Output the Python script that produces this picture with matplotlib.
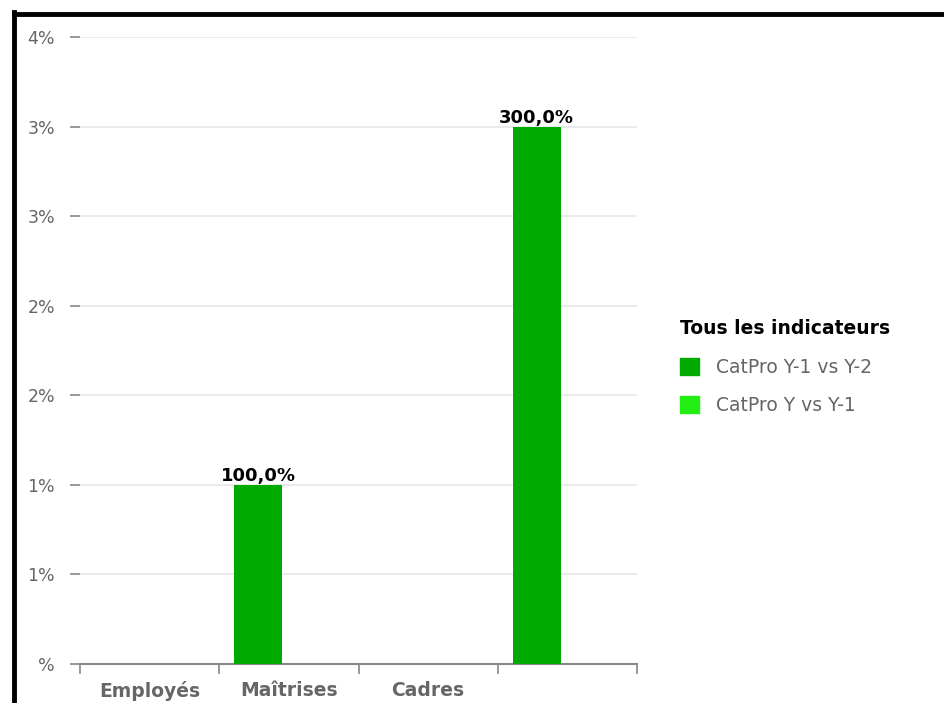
import matplotlib
matplotlib.use("Agg")
import matplotlib.pyplot as plt
from matplotlib.lines import Line2D
import numpy as np

categories = ["Employés", "Maîtrises", "Cadres", ""]
series_names = ["CatPro Y-1 vs Y-2", "CatPro Y vs Y-1"]
series1 = [0.0, 1.0, 0.0, 3.0]
series2 = [0.0, 0.0, 0.0, 0.0]
yticks = [0, 0.5, 1.0, 1.5, 2.0, 2.5, 3.0, 3.5]
ytick_labels = ["%", "1%", "1%", "2%", "2%", "3%", "3%", "4%"]
legend_title = "Tous les indicateurs"

colors = ["#00aa00", "#22ee11"]

fig = plt.figure(figsize=(9.44, 7.03), dpi=100)
fig.patch.set_facecolor("white")
ax = fig.add_axes([80/944, 39/703, (637-80)/944, (664-37)/703])

x = np.arange(len(categories))
w = 0.345
off = 0.22
b1 = ax.bar(x - off, series1, w, color=colors[0], label=series_names[0], zorder=3)
b2 = ax.bar(x + off, series2, w, color=colors[1], label=series_names[1], zorder=3)

for rect, v in zip(b1, series1):
    if v:
        ax.text(rect.get_x() + rect.get_width()/2, v, f"{v*100:.1f}%".replace(".", ","),
                ha="center", va="bottom", fontsize=13, fontweight="bold", color="black")

ax.set_xlim(-0.5, len(categories) - 0.5)
ax.set_ylim(0, 3.5)
ax.set_yticks(yticks)
ax.set_yticklabels(ytick_labels)
ax.yaxis.grid(True, color="#e6e6e6", linewidth=1.2, zorder=0)
ax.set_axisbelow(True)

for s in ["left", "top", "right"]:
    ax.spines[s].set_visible(False)
ax.spines["bottom"].set_color("#888888")
ax.spines["bottom"].set_linewidth(1.5)

ax.tick_params(axis="y", length=7, width=1.2, color="#888888", pad=11,
               labelsize=12.5, labelcolor="#666666")
ax.set_xticks(x)
ax.set_xticklabels(categories, fontsize=13.5, fontweight="bold", color="#666666")
ax.tick_params(axis="x", which="major", length=0, pad=12)
ax.set_xticks(np.arange(-0.5, len(categories)), minor=True)
ax.tick_params(axis="x", which="minor", length=7, width=1.2, color="#888888")

handles = [plt.Rectangle((0, 0), 1, 1, color=c) for c in colors]
leg = fig.legend(handles, series_names, title=legend_title, loc="upper left",
                 bbox_to_anchor=(663/944, 1 - 302/703), frameon=False,
                 fontsize=13.5, title_fontproperties={"weight": "bold", "size": 13.5},
                 handlelength=1.0, handleheight=1.0, handletextpad=0.9, labelspacing=1.05)
leg._legend_box.align = "left"
for t in leg.get_texts():
    t.set_color("#666666")

# black border on top and left
fig.add_artist(Line2D([14/944, 1.0], [1 - 14/703, 1 - 14/703], color="black", linewidth=3.5,
                      transform=fig.transFigure))
fig.add_artist(Line2D([14/944, 14/944], [0, 1 - 12/703], color="black", linewidth=3.5,
                      transform=fig.transFigure))

fig.savefig("out.png", dpi=100)
